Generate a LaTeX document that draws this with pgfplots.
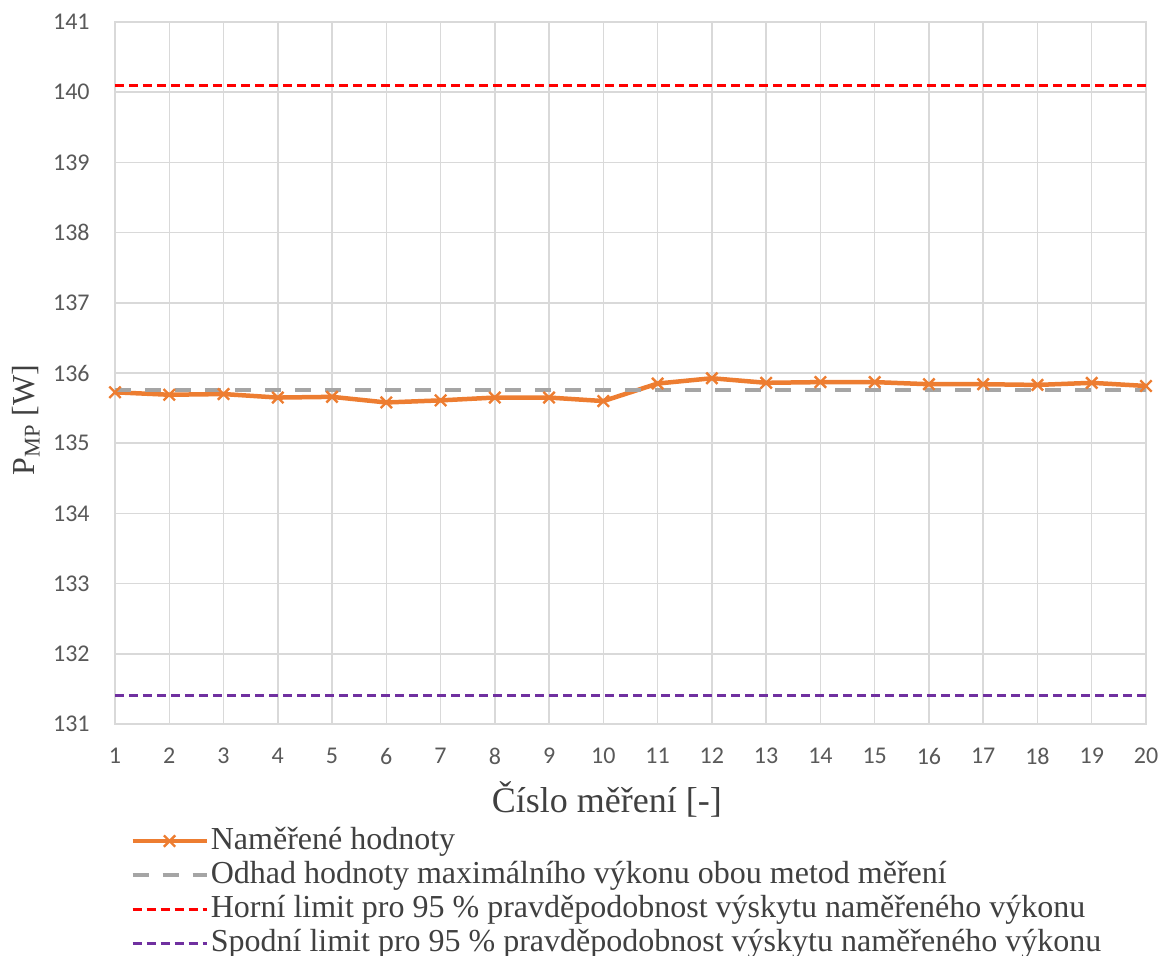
\documentclass[border=0pt]{standalone}
\usepackage{fontspec}
\setmainfont{Liberation Serif}
\newfontfamily\calibri{Carlito}
\usepackage{pgfplots}
\pgfplotsset{compat=1.18}
\definecolor{cOrange}{HTML}{ED7D31}
\definecolor{cGray}{HTML}{A5A5A5}
\definecolor{cRed}{HTML}{FF0000}
\definecolor{cPurple}{HTML}{7030A0}
\definecolor{cGrid}{HTML}{D9D9D9}
\definecolor{cTick}{HTML}{595959}
\definecolor{cText}{HTML}{404040}
\pgfplotsset{
  legline/.style={legend image code/.code={\draw[##1] (0pt,0pt) -- (37pt,0pt);}},
  legmark/.style={legend image code/.code={\draw[mark repeat=2,mark phase=2,##1] plot coordinates {(0pt,0pt)(18.5pt,0pt)(37pt,0pt)};}},
}
\begin{document}
\begin{tikzpicture}
\begin{axis}[
  scale only axis,
  width=515.5pt, height=351pt,
  xmin=1, xmax=20, ymin=131, ymax=141,
  xtick={1,...,20}, ytick={131,...,141},
  grid=major,
  major grid style={color=cGrid, line width=0.75pt},
  axis line style={color=cGrid, line width=0.75pt},
  major tick length=0pt,
  /pgf/number format/assume math mode=true,
  ticklabel style={font=\calibri\fontsize{12}{14}\selectfont, text=cTick, inner sep=0pt},
  xticklabel shift=12pt,
  yticklabel shift=12.5pt,
  clip=false,
  xlabel={Číslo měření [-]},
  ylabel={P\textsubscript{MP} [W]},
  xlabel style={font=\fontsize{18}{20}\selectfont, text=cText, at={(axis description cs:0.477,-0.108)}, anchor=center},
  ylabel style={font=\fontsize{16}{18}\selectfont, text=cText, at={(axis description cs:-0.0863,0.433)}, anchor=center},
  legend cell align=left,
  legend style={at={(axis description cs:0.0145,-0.142)}, anchor=north west,
    draw=none, fill=none, inner sep=0pt, row sep=0pt,
    font=\fontsize{16}{17}\selectfont, text=cText,
    nodes={inner sep=1pt, text height=11.5pt, text depth=3.5pt}},
]
\addplot[color=cOrange, line width=2.25pt, mark=x, mark size=4pt,
  mark options={line width=1.2pt, solid}, legmark]
coordinates {
(1,135.725)(2,135.69)(3,135.70)(4,135.65)(5,135.66)(6,135.58)(7,135.61)(8,135.65)(9,135.65)(10,135.60)
(11,135.85)(12,135.925)(13,135.86)(14,135.87)(15,135.87)(16,135.84)(17,135.84)(18,135.83)(19,135.86)(20,135.815)};
\addlegendentry{Naměřené hodnoty}
\addplot[color=cGray, line width=2pt, dash pattern=on 8pt off 7pt, legline]
coordinates {(1,135.76)(20,135.76)};
\addlegendentry{Odhad hodnoty maximálního výkonu obou metod měření}
\addplot[color=cRed, line width=1.5pt, dash pattern=on 4.5pt off 2.5pt, legline]
coordinates {(1,140.10)(20,140.10)};
\addlegendentry{Horní limit pro 95 \% pravděpodobnost výskytu naměřeného výkonu}
\addplot[color=cPurple, line width=1.5pt, dash pattern=on 4.5pt off 2.5pt, legline]
coordinates {(1,131.41)(20,131.41)};
\addlegendentry{Spodní limit pro 95 \% pravděpodobnost výskytu naměřeného výkonu}
\end{axis}
\pgfresetboundingbox
\path (-57.5pt,-116pt) rectangle (525.5pt,362pt);
\end{tikzpicture}
\end{document}
